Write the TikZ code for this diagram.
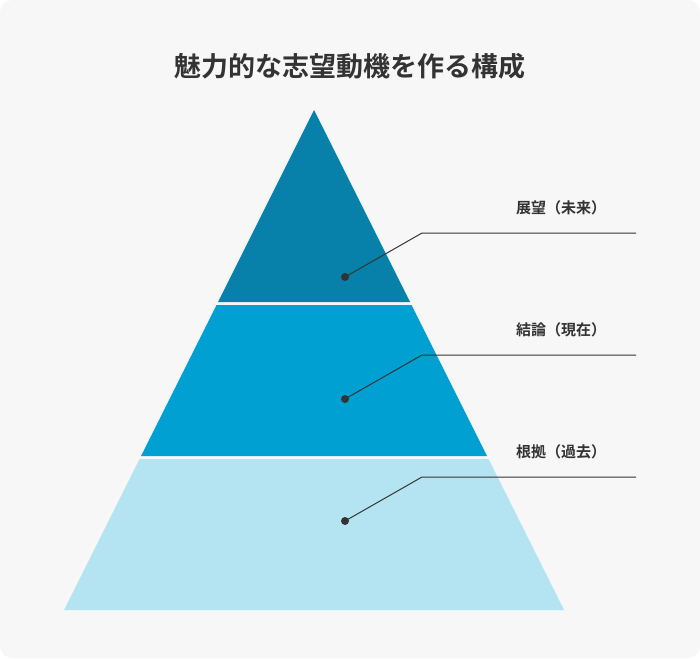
\documentclass[tikz,border=0pt]{standalone}
\usepackage{fontspec}
\setmainfont{Noto Sans CJK JP}
\newfontfamily\jpb{Noto Sans CJK JP Bold}
\definecolor{bgc}{HTML}{F7F7F7}
\definecolor{topc}{HTML}{0780AA}
\definecolor{midc}{HTML}{00A0D2}
\definecolor{botc}{HTML}{B4E4F2}
\definecolor{txt}{HTML}{333333}
\begin{document}
\begin{tikzpicture}[x=1pt,y=-1pt,
  lbl/.style={font=\jpb\fontsize{15}{18}\selectfont,text=txt,anchor=center},
  lead/.style={draw=txt,line width=1pt},
  dotc/.style={circle,fill=txt,inner sep=0pt,minimum size=8pt}]
\useasboundingbox (0,0) rectangle (700,658);
\fill[bgc,rounded corners=12pt] (0,0) rectangle (700,658);
\node[font=\jpb\fontsize{27}{32}\selectfont,text=txt] (title) at (350,66) {魅力的な志望動機を作る構成};
\fill[topc] (314,110) -- (410,302) -- (218,302) -- cycle;
\fill[midc] (216.5,305) -- (411.5,305) -- (487,456) -- (141,456) -- cycle;
\fill[botc] (139.5,459) -- (488.5,459) -- (564,610) -- (64,610) -- cycle;
\foreach \i/\y/\t in {a/0/展望（未来）,b/122/結論（現在）,c/244/根拠（過去）}{
  \node[dotc] (d\i) at (345,277+\y) {};
  \coordinate (k\i) at (422,233+\y);
  \coordinate (e\i) at (636,233+\y);
  \draw[lead] (d\i.center) -- (k\i) -- (e\i);
  \node[lbl] (l\i) at (561,208+\y) {\t};
}
\end{tikzpicture}
\end{document}
